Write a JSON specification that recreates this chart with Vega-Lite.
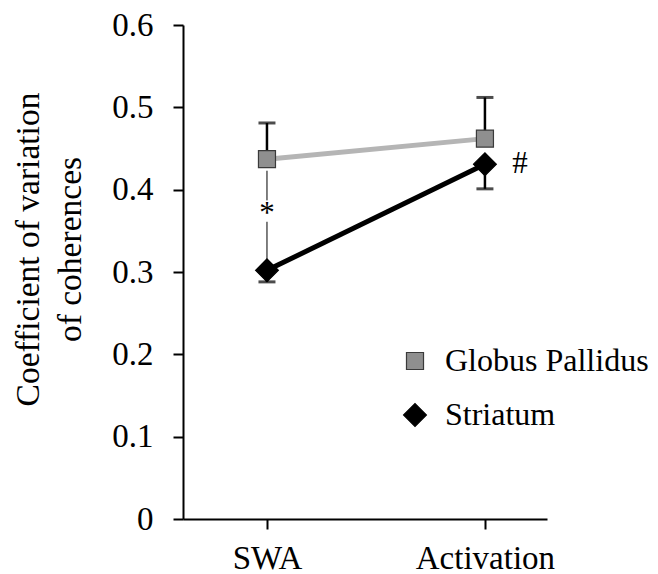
{
  "$schema": "https://vega.github.io/schema/vega-lite/v6.json",
  "autosize": "none",
  "width": 364,
  "height": 494,
  "padding": {"left": 183, "top": 25, "right": 111, "bottom": 55},
  "background": "white",
  "config": {
    "view": {"stroke": null},
    "font": "Liberation Serif",
    "axis": {"grid": false, "domainColor": "black", "domainWidth": 2, "tickColor": "black", "tickWidth": 2, "tickSize": 10, "labelColor": "black", "labelFont": "Liberation Serif", "labelFontSize": 33, "titleFont": "Liberation Serif", "titleFontWeight": "normal", "titleFontSize": 33.5, "titleColor": "black"}
  },
  "datasets": {
    "main": [
      {"condition": "SWA", "region": "Globus Pallidus", "mean": 0.437, "err": 0.481},
      {"condition": "Activation", "region": "Globus Pallidus", "mean": 0.462, "err": 0.512},
      {"condition": "SWA", "region": "Striatum", "mean": 0.302, "err": 0.288},
      {"condition": "Activation", "region": "Striatum", "mean": 0.431, "err": 0.401}
    ],
    "sig": [
      {"condition": "SWA", "y1": 0.423, "y2": 0.387},
      {"condition": "SWA", "y1": 0.361, "y2": 0.31}
    ],
    "star": [
      {"condition": "SWA", "y": 0.37, "label": "*"}
    ],
    "hash": [
      {"condition": "Activation", "y": 0.431, "label": "#"}
    ]
  },
  "encoding": {
    "x": {"field": "condition", "type": "nominal", "sort": ["SWA", "Activation"],
      "scale": {"type": "point", "padding": 0.335, "align": 0.575},
      "axis": {"title": null, "labelAngle": 0, "labelPadding": 13}}
  },
  "layer": [
    {
      "data": {"name": "main"},
      "mark": {"type": "rule", "color": "black", "strokeWidth": 2.5},
      "encoding": {
        "y": {"field": "mean", "type": "quantitative", "scale": {"domain": [0, 0.6]},
          "axis": {"values": [0, 0.1, 0.2, 0.3, 0.4, 0.5, 0.6], "format": ".1~f", "labelPadding": 20,
            "title": ["Coefficient of variation", "of coherences"], "titlePadding": 24, "titleLineHeight": 42, "titleY": 224}},
        "y2": {"field": "err"}
      }
    },
    {
      "data": {"name": "main"},
      "mark": {"type": "tick", "color": "black", "thickness": 3, "size": 17, "orient": "horizontal"},
      "encoding": {"y": {"field": "err", "type": "quantitative"}}
    },
    {
      "data": {"name": "sig"},
      "mark": {"type": "rule", "color": "black", "strokeWidth": 1},
      "encoding": {"y": {"field": "y1", "type": "quantitative"}, "y2": {"field": "y2"}}
    },
    {
      "data": {"name": "main"},
      "transform": [{"filter": "datum.region == 'Globus Pallidus'"}],
      "mark": {"type": "line", "strokeWidth": 5, "color": "#b5b5b5"},
      "encoding": {"y": {"field": "mean", "type": "quantitative"}}
    },
    {
      "data": {"name": "main"},
      "transform": [{"filter": "datum.region == 'Striatum'"}],
      "mark": {"type": "line", "strokeWidth": 5, "color": "#000000"},
      "encoding": {"y": {"field": "mean", "type": "quantitative"}}
    },
    {
      "data": {"name": "main"},
      "mark": {"type": "point", "filled": true, "opacity": 1, "strokeWidth": 1.2},
      "encoding": {
        "y": {"field": "mean", "type": "quantitative"},
        "shape": {"field": "region", "type": "nominal", "scale": {"domain": ["Globus Pallidus", "Striatum"], "range": ["square", "diamond"]},
          "legend": {"title": null, "orient": "none", "legendX": 216, "legendY": 320, "labelFont": "Liberation Serif", "labelFontSize": 32, "labelColor": "black", "labelOffset": 14, "labelLimit": 0, "rowPadding": 22, "symbolStrokeWidth": 1.2, "symbolOpacity": 1, "padding": 0}},
        "color": {"field": "region", "type": "nominal", "scale": {"domain": ["Globus Pallidus", "Striatum"], "range": ["#8f8f8f", "#000000"]}},
        "stroke": {"field": "region", "type": "nominal", "scale": {"domain": ["Globus Pallidus", "Striatum"], "range": ["#3a3a3a", "#000000"]}},
        "size": {"field": "region", "type": "nominal", "scale": {"domain": ["Globus Pallidus", "Striatum"], "range": [290, 520]}}
      }
    },
    {
      "data": {"name": "star"},
      "mark": {"type": "text", "fontSize": 31, "font": "Liberation Serif", "color": "black", "baseline": "middle"},
      "encoding": {
        "y": {"field": "y", "type": "quantitative"},
        "text": {"field": "label"}
      }
    },
    {
      "data": {"name": "hash"},
      "mark": {"type": "text", "fontSize": 31, "font": "Liberation Serif", "color": "black", "baseline": "middle", "dx": 35},
      "encoding": {
        "y": {"field": "y", "type": "quantitative"},
        "text": {"field": "label"}
      }
    }
  ]
}
